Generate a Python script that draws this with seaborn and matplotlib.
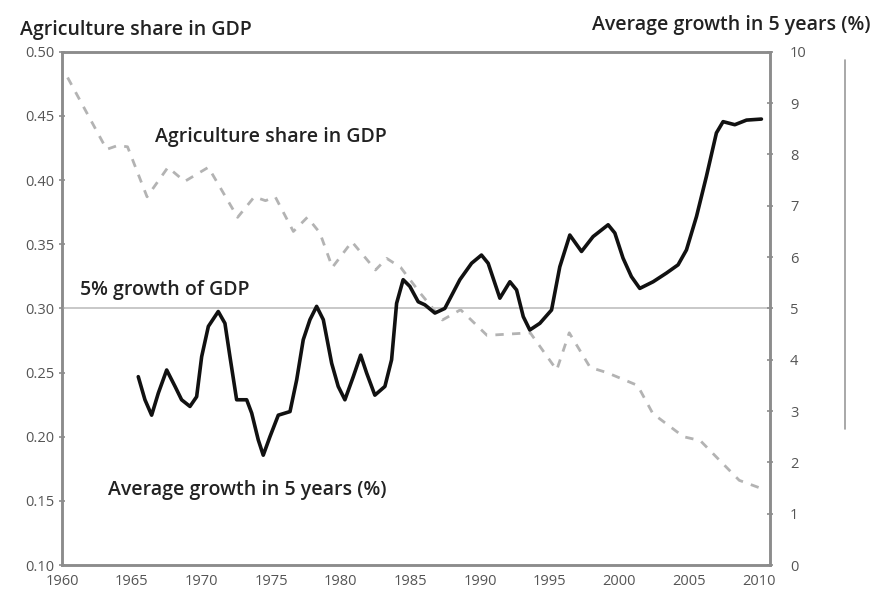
import numpy as np
import pandas as pd
import seaborn as sns
import matplotlib.pyplot as plt
from matplotlib.lines import Line2D

# 农业占GDP比重（左轴，灰色虚线）
share_years = [1960.4, 1963.2, 1964.0, 1964.7, 1966.1, 1967.6, 1968.8, 1970.5, 1972.6,
               1973.8, 1974.6, 1975.3, 1976.6, 1977.6, 1978.5, 1979.4, 1980.8, 1982.5,
               1983.3, 1984.3, 1985.7, 1987.3, 1988.6, 1990.5, 1993.6, 1995.5, 1996.4,
               1997.9, 1999.1, 2001.3, 2002.4, 2004.6, 2005.8, 2008.6, 2010.1]
share_vals = [0.480, 0.424, 0.427, 0.426, 0.387, 0.410, 0.399, 0.410, 0.371,
              0.387, 0.384, 0.387, 0.360, 0.371, 0.359, 0.332, 0.352, 0.330,
              0.339, 0.332, 0.312, 0.291, 0.299, 0.279, 0.281, 0.252, 0.281,
              0.254, 0.250, 0.240, 0.218, 0.200, 0.197, 0.166, 0.160]

# 五年平均增长率（右轴，黑色实线）
growth_years = [1965.47, 1965.95, 1966.43, 1966.91, 1967.51, 1968.11, 1968.58, 1969.18,
                1969.66, 1970.02, 1970.50, 1971.21, 1971.69, 1972.05, 1972.53, 1973.25,
                1973.61, 1974.08, 1974.44, 1974.92, 1975.52, 1976.36, 1976.84, 1977.31,
                1977.79, 1978.27, 1978.75, 1979.35, 1979.82, 1980.30, 1980.90, 1981.43,
                1981.86, 1982.45, 1983.17, 1983.65, 1984.01, 1984.48, 1984.96, 1985.56,
                1986.04, 1986.76, 1987.47, 1988.55, 1989.39, 1990.10, 1990.58, 1991.42,
                1992.14, 1992.62, 1993.10, 1993.57, 1994.29, 1995.13, 1995.72, 1996.44,
                1997.28, 1998.11, 1999.19, 1999.67, 2000.26, 2000.86, 2001.46, 2002.42,
                2003.38, 2004.21, 2004.81, 2005.53, 2006.24, 2006.96, 2007.44, 2008.28,
                2009.12, 2010.19]
growth_vals = [3.67, 3.22, 2.92, 3.35, 3.80, 3.48, 3.22, 3.09,
               3.28, 4.06, 4.65, 4.94, 4.71, 4.06, 3.22, 3.22,
               2.96, 2.44, 2.14, 2.50, 2.92, 2.99, 3.61, 4.39,
               4.78, 5.04, 4.78, 3.93, 3.48, 3.22, 3.67, 4.09,
               3.74, 3.31, 3.48, 4.00, 5.10, 5.56, 5.43, 5.13,
               5.07, 4.91, 5.00, 5.56, 5.88, 6.04, 5.88, 5.20,
               5.52, 5.36, 4.84, 4.58, 4.71, 4.97, 5.81, 6.43,
               6.11, 6.40, 6.63, 6.47, 5.98, 5.62, 5.39, 5.52,
               5.69, 5.85, 6.14, 6.79, 7.57, 8.42, 8.64, 8.58,
               8.67, 8.69]

x_ticks = list(range(1960, 2011, 5))
left_ticks = [0.10, 0.15, 0.20, 0.25, 0.30, 0.35, 0.40, 0.45, 0.50]
right_ticks = list(range(0, 11))

df_share = pd.DataFrame({'year': share_years, 'share': share_vals})
df_growth = pd.DataFrame({'year': growth_years, 'growth': growth_vals})

sns.set_theme(style='white')
plt.rcParams['font.family'] = ['Open Sans', 'DejaVu Sans']

fig = plt.figure(figsize=(8.75, 5.96), dpi=100)
ax = fig.add_axes([0.0709, 0.052, 0.809, 0.861])
ax2 = ax.twinx()

sns.lineplot(data=df_share, x='year', y='share', ax=ax, color='#b3b3b3',
             linewidth=2.0, linestyle=(0, (3, 3)))
sns.lineplot(data=df_growth, x='year', y='growth', ax=ax2, color='#111111',
             linewidth=2.6, solid_joinstyle='round', solid_capstyle='round')

# 5% 增长参考线
ax2.axhline(5, color='#c4c4c4', linewidth=1.3, zorder=0)

ax.set_xlim(1960, 2010.8)
ax.set_ylim(0.10, 0.50)
ax2.set_ylim(0, 10)
ax.set_xticks(x_ticks)
ax.set_yticks(left_ticks)
ax.set_yticklabels(['%.2f' % v for v in left_ticks])
ax2.set_yticks(right_ticks)
ax.set_xlabel('')
ax.set_ylabel('')
ax2.set_ylabel('')

for a in (ax, ax2):
    for s in a.spines.values():
        s.set_color('#8c8c8c')
        s.set_linewidth(1.8)
    a.tick_params(colors='#8c8c8c', labelcolor='#555555', labelsize=10.5,
                  direction='inout', length=5, width=1.2)
ax.tick_params(axis='x', pad=4)
ax.tick_params(axis='y', pad=3)
ax2.tick_params(axis='y', pad=12)
ax.grid(False)
ax2.grid(False)

lab = dict(fontsize=14, fontweight='semibold', color='#222222')
fig.text(0.023, 0.95, 'Agriculture share in GDP', va='center', ha='left', **lab)
fig.text(0.995, 0.958, 'Average growth in 5 years (%)', va='center', ha='right', **lab)
ax.text(0.131, 0.834, 'Agriculture share in GDP', transform=ax.transAxes, va='center', **lab)
ax.text(0.025, 0.536, '5% growth of GDP', transform=ax.transAxes, va='center', **lab)
ax.text(0.065, 0.146, 'Average growth in 5 years (%)', transform=ax.transAxes, va='center', **lab)

# 右侧的竖线（原图中的残留线）
fig.add_artist(Line2D([0.966, 0.966], [0.28, 0.90], color='#9a9a9a', linewidth=1.2))

fig.savefig('out.png', dpi=100)
